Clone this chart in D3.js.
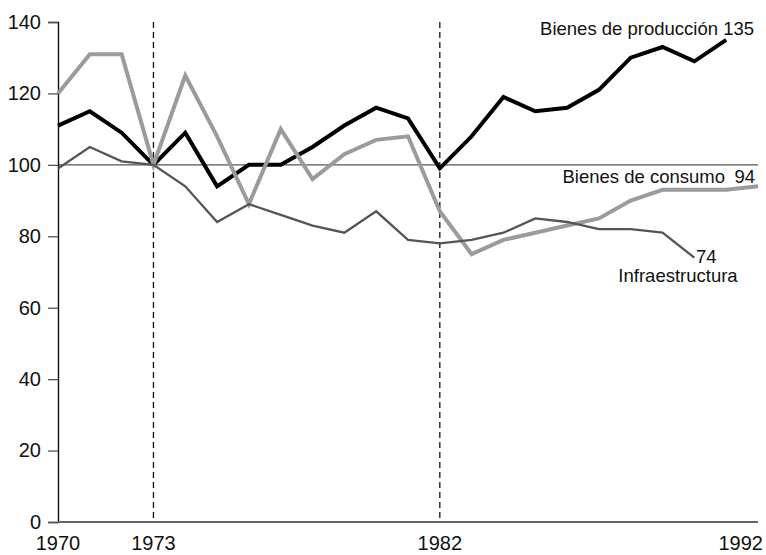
<!DOCTYPE html>
<html>
<head>
<meta charset="utf-8">
<script src="https://cdn.jsdelivr.net/npm/d3@7"></script>
<style>
  body { margin: 0; background: #fff; }
  svg { display: block; font-family: "Liberation Sans", Arial, sans-serif; }
</style>
</head>
<body>
<svg width="766" height="555"></svg>
<script>
const years = d3.range(1970, 1993);

const produccion = [111, 115, 109, 100, 109, 94, 100, 100, 105, 111, 116, 113,
  99, 108, 119, 115, 116, 121, 130, 133, 129, 135];
const consumo = [120, 131, 131, 100, 125, 108, 89, 110, 96, 103, 107, 108,
  87, 75, 79, 81, 83, 85, 90, 93, 93, 93, 94];
const infraestructura = [99, 105, 101, 100, 94, 84, 89, 86, 83, 81, 87, 79,
  78, 79, 81, 85, 84, 82, 82, 81, 74];

const yTicks = [0, 20, 40, 60, 80, 100, 120, 140];
const xLabels = [1970, 1973, 1982, 1992];
const markers = [1973, 1982];

const svg = d3.select("svg");

const x = d3.scaleLinear().domain([1970, 1992]).range([58, 758]);
const y = d3.scaleLinear().domain([0, 140]).range([522, 22]);

// dashed period markers
svg.selectAll(".marker")
  .data(markers)
  .join("line")
  .attr("x1", (d) => x(d)).attr("x2", (d) => x(d))
  .attr("y1", y(140)).attr("y2", y(0))
  .attr("stroke", "#111")
  .attr("stroke-width", 1.3)
  .attr("stroke-dasharray", "6,4");

// reference line at 100
svg.append("line")
  .attr("x1", x(1970)).attr("x2", x(1992))
  .attr("y1", y(100)).attr("y2", y(100))
  .attr("stroke", "#555")
  .attr("stroke-width", 1.3);

// y axis
const yAxis = svg.append("g")
  .attr("transform", `translate(${x(1970)},0)`)
  .call(d3.axisLeft(y).tickValues(yTicks).tickSize(10).tickPadding(7));
yAxis.select(".domain").attr("stroke", "#111").attr("stroke-width", 1.4);
yAxis.selectAll(".tick line").attr("stroke", "#555").attr("stroke-width", 1.3);
yAxis.selectAll(".tick text")
  .attr("font-size", 20)
  .attr("fill", "#111")
  .attr("font-family", "Liberation Sans, Arial, sans-serif");

// x baseline
svg.append("line")
  .attr("x1", x(1970)).attr("x2", x(1992))
  .attr("y1", y(0)).attr("y2", y(0))
  .attr("stroke", "#666")
  .attr("stroke-width", 2);

// x labels
svg.selectAll(".xlab")
  .data(xLabels)
  .join("text")
  .attr("x", (d) => (d === 1992 ? 763 : x(d)))
  .attr("y", 550)
  .attr("text-anchor", (d) => (d === 1992 ? "end" : "middle"))
  .attr("font-size", 20)
  .attr("fill", "#111")
  .text((d) => d);

const line = d3.line()
  .x((d, i) => x(years[i]))
  .y((d) => y(d));

const series = [
  { values: produccion, color: "#000", width: 4 },
  { values: consumo, color: "#9b9b9b", width: 4 },
  { values: infraestructura, color: "#555", width: 2.3 },
];

svg.selectAll(".series")
  .data(series)
  .join("path")
  .attr("d", (d) => line(d.values))
  .attr("fill", "none")
  .attr("stroke", (d) => d.color)
  .attr("stroke-width", (d) => d.width)
  .attr("stroke-linejoin", "miter");

// series labels
const labels = [
  { text: "Bienes de producción 135", x: 754, y: 35, anchor: "end" },
  { text: "Bienes de consumo", x: 725, y: 183, anchor: "end" },
  { text: "94", x: 755, y: 183, anchor: "end" },
  { text: "74", x: 696, y: 263, anchor: "start" },
  { text: "Infraestructura", x: 678, y: 282, anchor: "middle" },
];

svg.selectAll(".lab")
  .data(labels)
  .join("text")
  .attr("x", (d) => d.x)
  .attr("y", (d) => d.y)
  .attr("text-anchor", (d) => d.anchor)
  .attr("font-size", 18.5)
  .attr("fill", "#111")
  .text((d) => d.text);
</script>
</body>
</html>
